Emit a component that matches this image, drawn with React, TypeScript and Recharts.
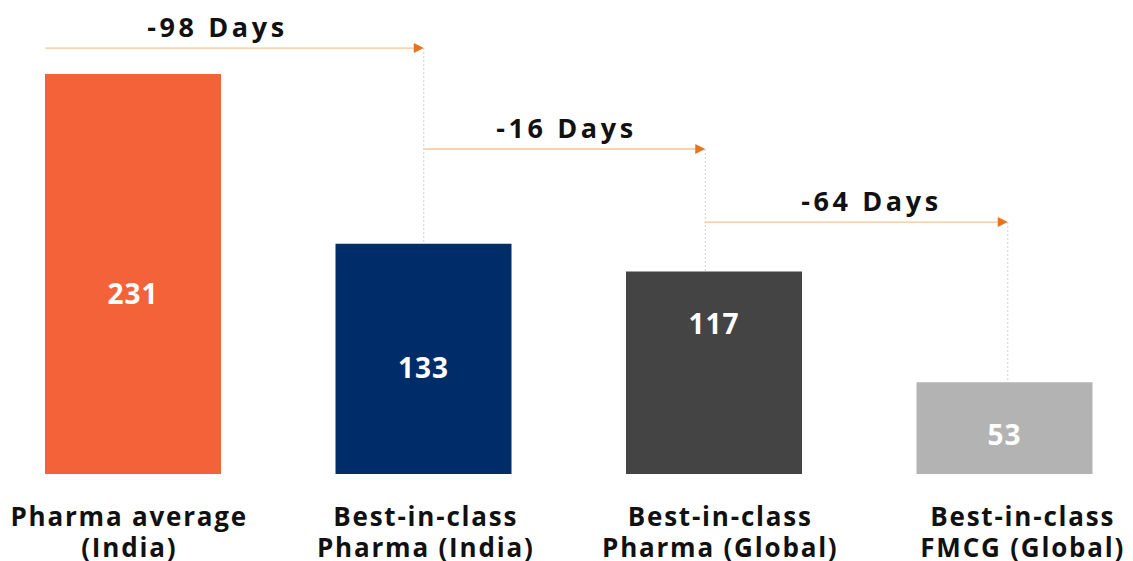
import React from 'react';
import { BarChart, Bar, XAxis, YAxis, Cell, LabelList, ReferenceLine } from 'recharts';

const categories = [
  'Pharma average\n(India)',
  'Best-in-class\nPharma (India)',
  'Best-in-class\nPharma (Global)',
  'Best-in-class\nFMCG (Global)',
];
const values = [231, 133, 117, 53];
const barColors = ['#F4623A', '#002D6A', '#444444', '#B3B3B3'];
const stepLabels = ['-98 Days', '-16 Days', '-64 Days'];

// layout of the annotations (in data units / px nudges)
const stepLevels = [246, 187.7, 145.5];
const labelLevels = [104.5, 62, 87, 23];
const arrowStartNudge = [-88, 0, -9];
const arrowEndNudge = [0, -9, 3];
const stepLabelNudge = [-17, 2, 15];
const tickNudge = [-4, 2, 6, 18];

const data = categories.map((name, i) => ({ name, value: values[i] }));

const FONT = '"Open Sans", sans-serif';

const makeArrow = (i: number) => (props: any) => {
  const { x1, y1, x2 } = props;
  const sx = x1 + arrowStartNudge[i];
  const tip = x2 + arrowEndNudge[i];
  const y = y1;
  return (
    <g>
      <line x1={sx} y1={y} x2={tip - 8} y2={y} stroke="#F6C49A" strokeWidth={1.3} />
      <polygon points={`${tip},${y} ${tip - 10},${y - 5} ${tip - 10},${y + 5}`} fill="#E8731C" />
      <text
        x={(sx + tip) / 2 + stepLabelNudge[i]}
        y={y - 11}
        textAnchor="middle"
        fontFamily={FONT}
        fontWeight={700}
        fontSize={27}
        letterSpacing={3.6}
        fill="#111"
      >
        {stepLabels[i]}
      </text>
    </g>
  );
};

const makeDrop = (i: number) => (props: any) => {
  const { x1, y1, y2 } = props;
  const x = x1 + arrowEndNudge[i];
  return <line x1={x} y1={y1} x2={x} y2={y2} stroke="#D0D0D0" strokeWidth={1} strokeDasharray="2 2" />;
};

const CategoryTick = (props: any) => {
  const { x, y, payload, index } = props;
  const lines = String(payload.value).split('\n');
  const cx = x + tickNudge[index];
  return (
    <g>
      {lines.map((l, k) => (
        <text
          key={k}
          x={cx}
          y={y + 44 + k * 31}
          textAnchor="middle"
          fontFamily={FONT}
          fontWeight={700}
          fontSize={26}
          letterSpacing={1.8}
          fill="#111"
        >
          {l}
        </text>
      ))}
    </g>
  );
};

const ValueLabel = (props: any) => {
  const { x, y, width, height, value, index } = props;
  const perUnit = height / value;
  const cy = y + height - perUnit * labelLevels[index];
  return (
    <text
      x={x + width / 2}
      y={cy}
      textAnchor="middle"
      dominantBaseline="central"
      fontFamily={FONT}
      fontWeight={700}
      fontSize={28}
      letterSpacing={1}
      fill="#fff"
    >
      {value}
    </text>
  );
};

export default function App() {
  return (
    <div style={{ position: 'absolute', left: 0, top: 0, width: 1133, height: 561, overflow: 'hidden', background: '#fff' }}>
      <div style={{ marginLeft: -12 }}>
        <BarChart width={1162} height={561} data={data} margin={{ top: 6.5, right: 0, left: 0, bottom: 0 }}>
          <XAxis dataKey="name" axisLine={false} tickLine={false} interval={0} height={87} tick={<CategoryTick />} />
          <YAxis hide domain={[0, 270]} />
          <Bar dataKey="value" barSize={176} isAnimationActive={false}>
            {data.map((d, i) => (
              <Cell key={d.name} fill={barColors[i]} />
            ))}
            <LabelList dataKey="value" content={<ValueLabel />} />
          </Bar>
          {stepLabels.map((s, i) => (
            <ReferenceLine
              key={'drop' + s}
              segment={[
                { x: categories[i + 1], y: stepLevels[i] },
                { x: categories[i + 1], y: values[i + 1] },
              ]}
              shape={makeDrop(i)}
            />
          ))}
          {stepLabels.map((s, i) => (
            <ReferenceLine
              key={s}
              segment={[
                { x: categories[i], y: stepLevels[i] },
                { x: categories[i + 1], y: stepLevels[i] },
              ]}
              shape={makeArrow(i)}
            />
          ))}
        </BarChart>
      </div>
    </div>
  );
}
